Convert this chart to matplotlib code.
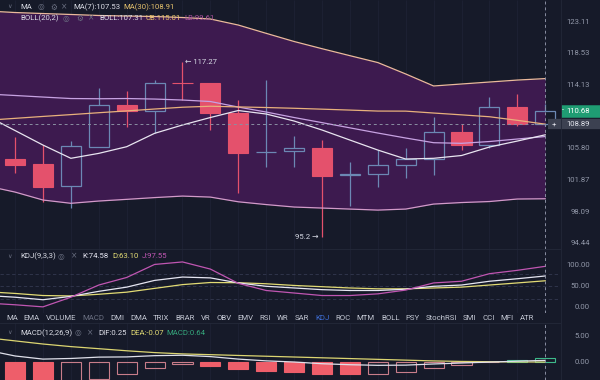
# ── Imports ───────────────────────────────────────────────────────────────────
import numpy as np
import matplotlib.pyplot as plt
from matplotlib.lines import Line2D
from matplotlib.ticker import NullLocator

plt.rcParams['font.family'] = ['Roboto', 'DejaVu Sans']

# ── Data ──────────────────────────────────────────────────────────────────────
opens  = [104.48, 103.80, 101.14, 106.01, 111.43, 110.67, 114.40, 114.36, 110.41, 105.30,
          105.45, 105.85, 102.47, 102.62, 103.67, 104.42, 107.85, 106.22, 111.12, 108.89]
highs  = [107.28, 106.22, 106.77, 113.68, 113.35, 114.81, 117.27, 114.36, 112.10, 114.81,
          107.37, 106.86, 104.12, 105.57, 105.79, 109.88, 108.93, 112.45, 112.93, 111.56]
lows   = [102.74, 99.25, 98.47, 106.01, 108.48, 107.72, 112.10, 108.15, 100.26, 103.45,
          103.45, 95.20, 98.72, 101.05, 102.07, 102.47, 105.57, 105.79, 108.67, 108.70]
closes = [103.73, 101.05, 106.10, 111.43, 110.67, 114.36, 114.36, 110.41, 105.22, 105.37,
          105.85, 102.40, 102.55, 103.71, 104.42, 107.85, 106.22, 111.20, 108.89, 110.68]

# indicator lines start one bar before the first visible candle
ma7  = [109.97, 108.08, 106.22, 104.55, 105.17, 106.01, 107.72, 108.80, 109.78, 110.70, 110.24,
        109.32, 108.15, 106.86, 105.59, 104.46, 104.55, 104.90, 105.97, 106.73, 107.53]
ma30 = [109.42, 109.67, 109.92, 110.16, 110.41, 110.65, 110.90, 111.14, 111.27, 111.18, 111.10,
        111.00, 110.88, 110.76, 110.63, 110.62, 110.37, 110.13, 109.88, 109.41, 108.91]
boll = [112.91, 112.71, 112.50, 112.30, 112.27, 112.30, 112.23, 112.10, 111.90, 111.16, 110.50,
        109.78, 109.11, 108.43, 107.76, 107.12, 106.52, 106.44, 106.67, 106.99, 107.31]
ub   = [124.70, 124.47, 124.32, 124.18, 124.03, 123.95, 123.88, 123.73, 123.51, 122.62, 121.41,
        120.23, 119.20, 118.21, 117.24, 115.65, 114.00, 114.27, 114.54, 114.81, 115.01]
lb   = [101.14, 100.41, 99.46, 99.07, 99.34, 99.54, 99.75, 99.93, 99.81, 99.25, 98.92,
        98.63, 98.51, 98.39, 98.27, 98.39, 98.98, 99.16, 99.28, 99.58, 99.61]

kdj_k = [28, 24, 18, 26, 38, 48, 64, 72, 70, 58, 50, 46, 42, 40, 40, 43, 50, 53, 62, 68, 74.58]
kdj_d = [37, 33, 28, 27, 31, 36, 45, 54, 59, 58.5, 56, 52, 49, 46, 44, 44, 46, 48, 53, 58, 63.10]
kdj_j = [10, 6, 1, 24, 53, 71, 102, 108, 91, 57, 40, 34, 28, 28, 32, 41, 58, 62, 80, 88, 97.55]

macd_hist = [-5.8, -6.0, -4.56, -3.24, -2.36, -1.18, -0.52, -0.74, -1.40, -1.77,
             -1.91, -2.28, -2.36, -2.30, -1.91, -1.18, -0.60, -0.15, 0.30, 0.64]
macd_dif = [2.2, 1.1, 0.5, 0.62, 0.88, 0.92, 1.16, 1.24, 0.98, 0.5, 0.16,
            -0.06, -0.39, -0.58, -0.70, -0.66, -0.44, -0.25, -0.08, 0.10, 0.25]
macd_dea = [4.6, 4.0, 3.4, 2.9, 2.5, 2.1, 1.75, 1.5, 1.35, 1.2, 1.05,
            0.9, 0.75, 0.6, 0.45, 0.3, 0.15, 0.05, 0.0, -0.05, -0.07]

price_ticks = [94.44, 98.09, 101.87, 105.80, 114.13, 118.53, 123.11]
tabs = ['MA', 'EMA', 'VOLUME', 'MACD', 'DMI', 'DMA', 'TRIX', 'BRAR', 'VR', 'OBV', 'EMV',
        'RSI', 'WR', 'SAR', 'KDJ', 'ROC', 'MTM', 'BOLL', 'PSY', 'StochRSI', 'SMI', 'CCI',
        'MFI', 'ATR']

# ── Style ─────────────────────────────────────────────────────────────────────
BG      = '#161a29'
PURPLE  = '#3d1a4f'
UPC     = '#6c88b4'
DOWNC   = '#e4516c'
GRID    = '#1e2234'
AXTXT   = '#9197a8'
CROSS   = '#8a8fa2'
W, H    = 600, 380
FS      = 5.6
PLOT_R  = 560              # right edge of the plotting area, px
LABEL_R = 590              # right edge of the price-axis labels, px

fig = plt.figure(figsize=(6, 3.8), dpi=100, facecolor=BG)


def box(top, bottom, right=PLOT_R):
    return [0, 1 - bottom / H, right / W, (bottom - top) / H]


ax   = fig.add_axes(box(0, 249))
ax_k = fig.add_axes(box(249, 313))
ax_m = fig.add_axes(box(323, 380))

n  = len(closes)
xs = np.arange(n)
xl = np.arange(-1, n)


def axis_text(a, v, s, color=AXTXT, px=LABEL_R, ha='right', z=9, size=FS):
    # text on the price-axis strip, placed at a y value of the panel
    a.annotate(s, xy=(1.0, v), xycoords=a.get_yaxis_transform(), xytext=(px - PLOT_R, 0),
               textcoords='offset pixels', ha=ha, va='center', fontsize=size,
               color=color, annotation_clip=False, zorder=z)


def tag(a, v, x0, color, height_pt):
    # filled price tag reaching the right edge of the picture
    a.plot([x0 / PLOT_R, W / PLOT_R], [v, v], transform=a.get_yaxis_transform(),
           color=color, lw=height_pt, solid_capstyle='butt', clip_on=False, zorder=8)


for a in (ax, ax_k, ax_m):
    a.set_facecolor(BG)
    a.set_xlim(-0.54, 19.53)
    a.set_xticks([])
    a.set_yticks([])
    for s in a.spines.values():
        s.set_visible(False)
    a.vlines(xs, 0, 1, transform=a.get_xaxis_transform(), color=GRID, lw=0.6, zorder=0)
    a.axvline(n - 1, color=CROSS, lw=0.7, ls=(0, (3, 3)), zorder=6)

for a in (ax_k, ax_m):
    a.spines['top'].set_visible(True)
    a.spines['top'].set_color('#242939')
    a.spines['top'].set_linewidth(0.6)

# ── Main panel: Bollinger + MA + candles ──────────────────────────────────────
ax.set_yscale('log')
ax.set_ylim(93.80, 126.35)
ax.yaxis.set_major_locator(NullLocator())
ax.yaxis.set_minor_locator(NullLocator())
for v in price_ticks:
    axis_text(ax, v, f'{v:.2f}')

ax.fill_between(xl, lb, ub, color=PURPLE, lw=0, zorder=1)
ax.plot(xl, ub, color='#ebb99c', lw=0.9, zorder=4)
ax.plot(xl, lb, color='#d29ac9', lw=0.9, zorder=4)
ax.plot(xl, boll, color='#c7a2e2', lw=0.9, zorder=4)
ax.plot(xl, ma30, color='#e8b17c', lw=0.9, zorder=4)
ax.plot(xl, ma7, color='#e8e5f0', lw=0.9, zorder=4)

o = np.array(opens); c = np.array(closes)
hi = np.array(highs); lo = np.array(lows)
up = c >= o
bot = np.minimum(o, c); top = np.maximum(o, c)

ax.vlines(xs[~up], lo[~up], hi[~up], color=DOWNC, lw=0.9, zorder=3)
ax.vlines(xs[up], lo[up], bot[up], color=UPC, lw=0.9, zorder=3)
ax.vlines(xs[up], top[up], hi[up], color=UPC, lw=0.9, zorder=3)
ax.bar(xs[~up], (top - bot)[~up], bottom=bot[~up], width=0.72,
       color=DOWNC, edgecolor=DOWNC, lw=0.8, zorder=3)
ax.bar(xs[up], (top - bot)[up], bottom=bot[up], width=0.72,
       facecolor='none', edgecolor=UPC, lw=0.9, zorder=3)

# highest / lowest markers
ih, il = int(np.argmax(hi)), int(np.argmin(lo))
ax.annotate(f'← {hi[ih]:.2f}', xy=(ih, hi[ih]), xytext=(3, 0), textcoords='offset pixels',
            ha='left', va='center', fontsize=FS, color='#d6d9e4', zorder=7)
ax.annotate(f'{lo[il]:g} →', xy=(il, lo[il]), xytext=(-3, 0), textcoords='offset pixels',
            ha='right', va='center', fontsize=FS, color='#d6d9e4', zorder=7)

# crosshair on the last open, and the last-price tag
ax.axhline(o[-1], color=CROSS, lw=0.7, ls=(0, (3, 3)), zorder=6)
tag(ax, o[-1], 548, '#3c4151', 7.4)
axis_text(ax, o[-1], '+', '#e4e6ee', px=552, ha='left')
axis_text(ax, o[-1], f'{o[-1]:.2f}', '#e4e6ee')
tag(ax, c[-1], 561, '#1f9d73', 9.0)
axis_text(ax, c[-1], '-', 'white', px=562, ha='left', size=5)
axis_text(ax, c[-1], f'{c[-1]:.2f}', 'white')

# ── KDJ panel ─────────────────────────────────────────────────────────────────
ax_k.set_ylim(-13.6, 138.8)
for v in (0, 50, 100):
    axis_text(ax_k, v, f'{v:.2f}')
for v in (20, 50, 80):
    ax_k.axhline(v, color='#333950', lw=0.6, ls=(0, (4, 3)), zorder=1)
ax_k.plot(xl, kdj_d, color='#e2db74', lw=0.9, zorder=3)
ax_k.plot(xl, kdj_k, color='#e6e6f2', lw=0.9, zorder=3)
ax_k.plot(xl, kdj_j, color='#c056b2', lw=0.9, zorder=3)

# ── MACD panel ────────────────────────────────────────────────────────────────
ax_m.set_ylim(-3.52, 7.44)
for v in (-5, 0, 5):
    axis_text(ax_m, v, f'{v:.2f}')
hist = np.array(macd_hist)
prev = np.concatenate([[np.inf], hist[:-1]])
filled = hist <= prev
for i, v in enumerate(hist):
    col = '#ee5e6a' if v < 0 else '#3dba8a'
    edge = col if filled[i] else ('#c97d8a' if v < 0 else '#3dba8a')
    ax_m.bar(i, v, width=0.72, facecolor=col if filled[i] else 'none',
             edgecolor=edge, lw=0.8, zorder=2)
ax_m.plot(xl, macd_dea, color='#dcd571', lw=0.9, zorder=3)
ax_m.plot(xl, macd_dif, color='#dfe0ea', lw=0.9, zorder=3)

# ── Header texts ──────────────────────────────────────────────────────────────
def label(x, y, s, color, fam=None, size=FS):
    kw = dict(family=fam) if fam else {}
    fig.text(x / W, 1 - y / H, s, color=color, fontsize=size, va='center', ha='left', **kw)


ICON = '#6b7082'
for y, parts in [
    (7,   [(20, 'MA', '#d9dbe4'), (73, 'MA(7):107.53', '#d9dbe4'), (123, 'MA(30):108.91', '#e6c36d')]),
    (18,  [(20, 'BOLL(20,2)', '#d9dbe4'), (99, 'BOLL:107.31', '#d9dbe4'),
           (146, 'UB:115.01', '#e6c36d'), (184, 'LB:99.61', '#a9519c')]),
    (256, [(20, 'KDJ(9,3,3)', '#d9dbe4'), (82, f'K:{kdj_k[-1]:.2f}', '#e6e6f2'),
           (112, f'D:{kdj_d[-1]:.2f}', '#e2db74'), (142, f'J:{kdj_j[-1]:.2f}', '#c056b2')]),
    (333, [(20, 'MACD(12,26,9)', '#d9dbe4'), (98, f'DIF:{macd_dif[-1]:.2f}', '#e0e1ea'),
           (130, f'DEA:{macd_dea[-1]:.2f}', '#e2db74'), (166, f'MACD:{macd_hist[-1]:.2f}', '#35a77c')]),
]:
    for x, s, col in parts:
        label(x, y, s, col)

label(7, 7, '∨', ICON, 'DejaVu Sans', 4.5)
label(7, 256, '∨', ICON, 'DejaVu Sans', 4.5)
label(7, 333, '∨', ICON, 'DejaVu Sans', 4.5)
for x, s in [(38, '◎'), (50, '⚙'), (61, '×')]:
    label(x, 7, s, ICON, 'DejaVu Sans', 5.5)
for x, s in [(63, '◎'), (76, '⚙'), (88, '×')]:
    label(x, 18, s, ICON, 'DejaVu Sans', 5.5)
for x, s in [(58, '◎'), (71, '×')]:
    label(x, 256, s, ICON, 'DejaVu Sans', 5.5)
for x, s in [(75, '◎'), (87, '×')]:
    label(x, 333, s, ICON, 'DejaVu Sans', 5.5)

# ── Indicator tab bar ─────────────────────────────────────────────────────────
renderer = fig.canvas.get_renderer()
x = 6
for name in tabs:
    col = '#6b7082' if name == 'MACD' else ('#3f6fd8' if name == 'KDJ' else '#c3c7d3')
    t = fig.text(x / W, 1 - 318 / H, name, color=col, fontsize=FS, va='center', ha='left')
    bb = t.get_window_extent(renderer)
    x = bb.x1 + 6.0

# price-axis separator
fig.add_artist(Line2D([561 / W, 561 / W], [0, 1], color='#232838', lw=0.6))

plt.savefig('out.png', dpi=100, facecolor=BG)
